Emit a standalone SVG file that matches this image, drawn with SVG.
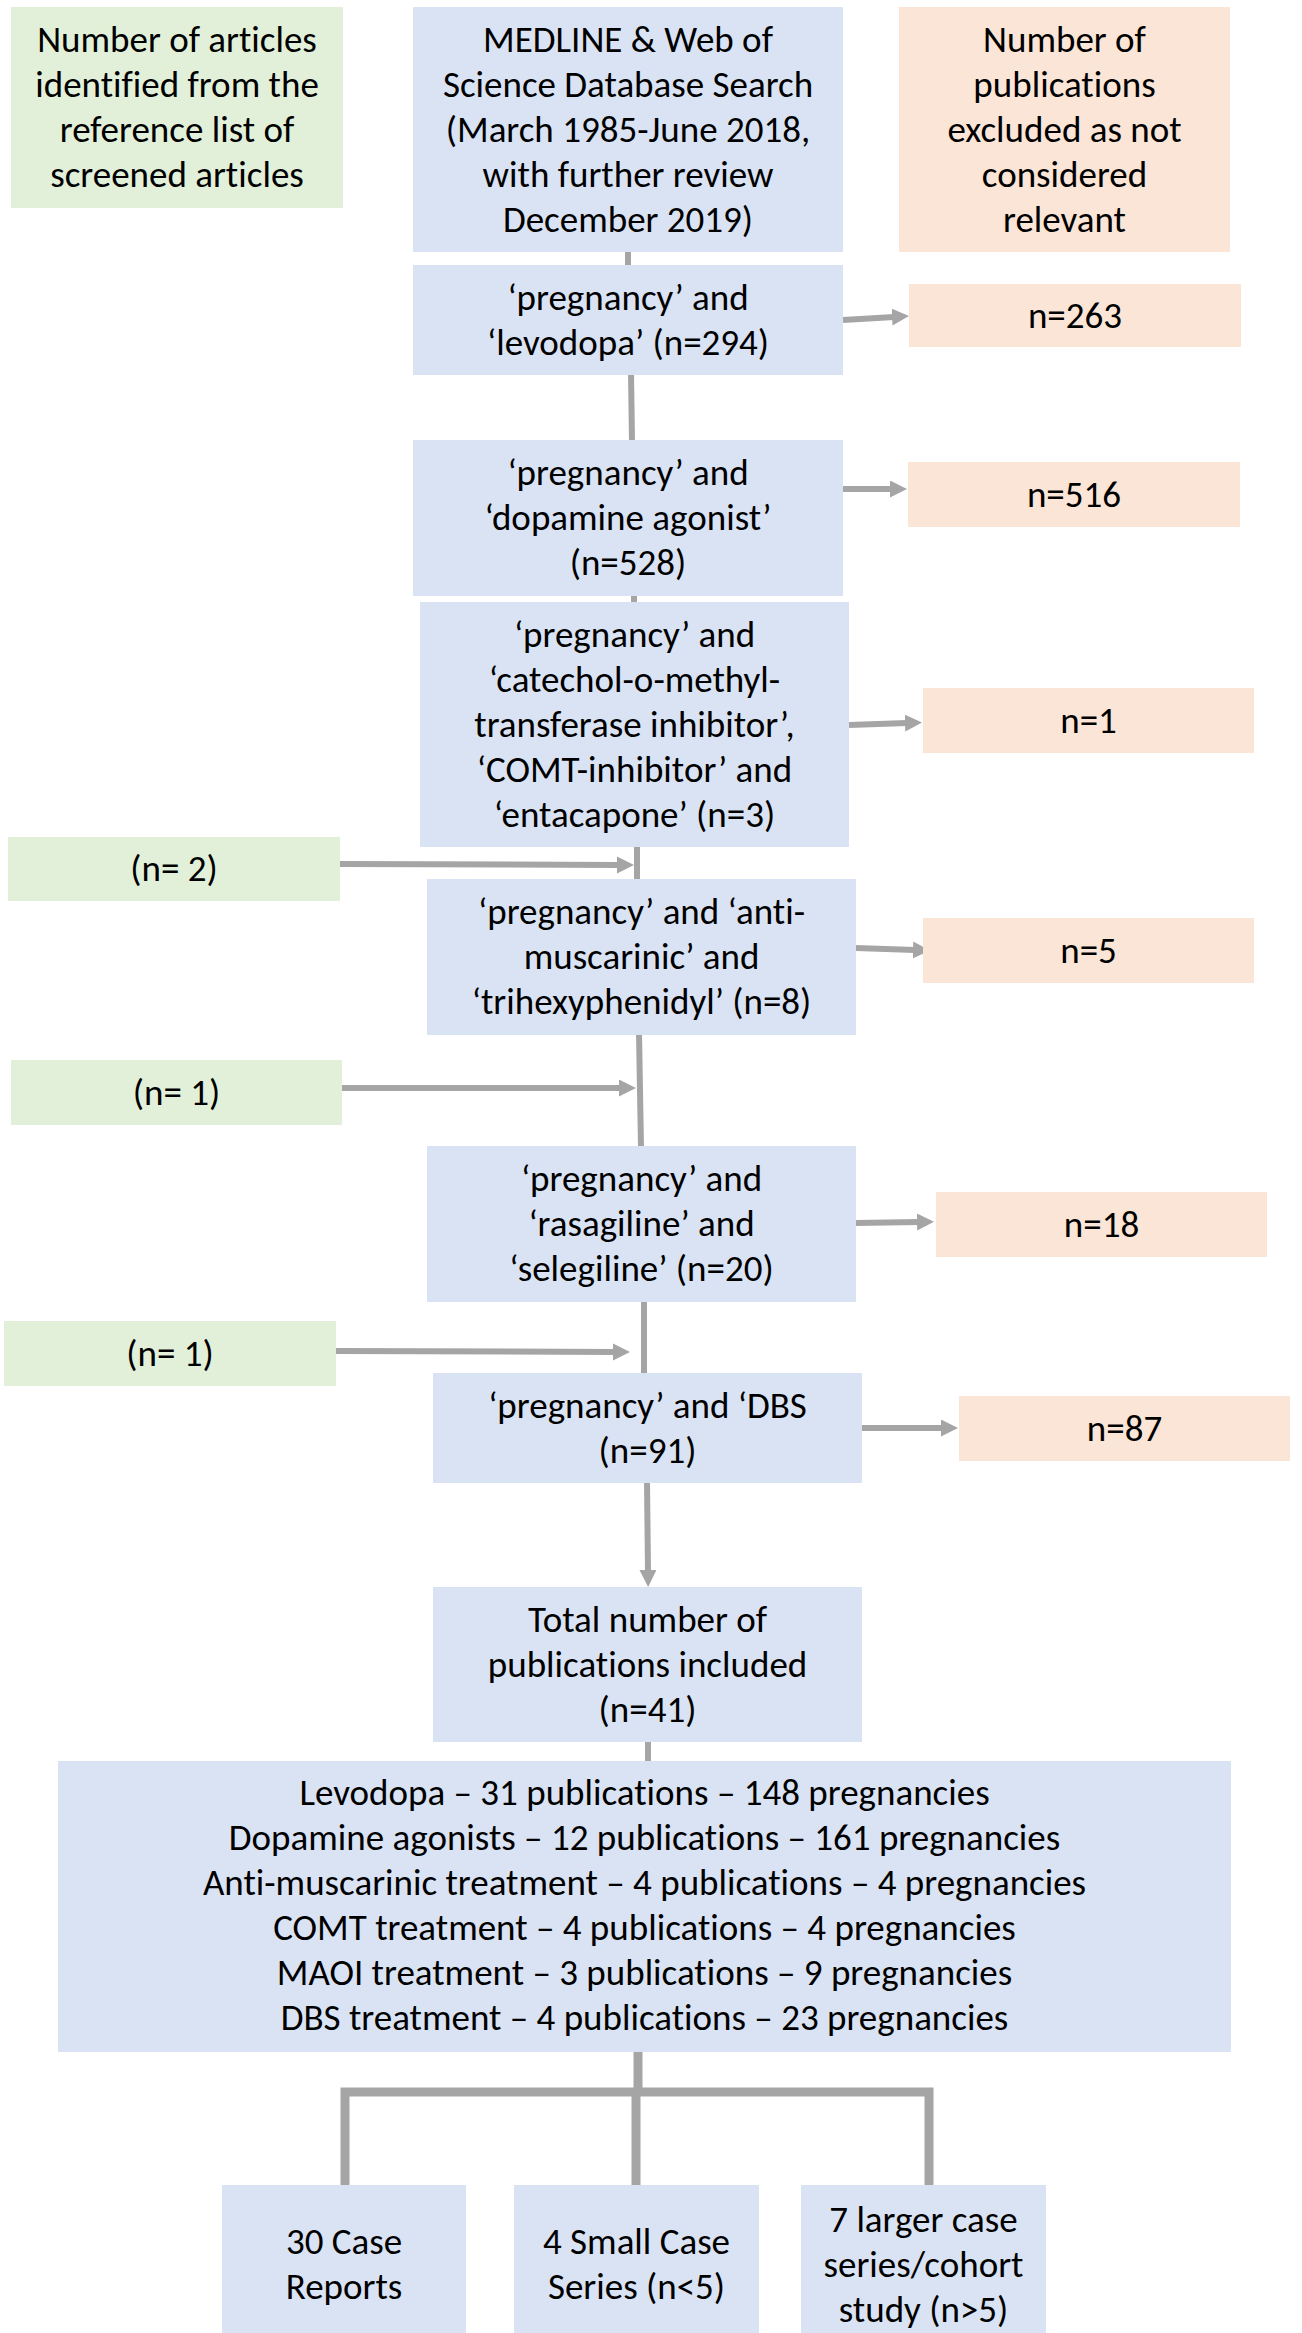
<svg xmlns="http://www.w3.org/2000/svg" width="1302" height="2333" viewBox="0 0 1302 2333">
<style>
text{font-family:Carlito,"Liberation Sans",sans-serif;font-size:37px;fill:#000;text-anchor:middle;font-variant-ligatures:none}
.b{fill:#DAE3F3}
.g{fill:#E2F0D9}
.o{fill:#FBE5D6}
.ln{stroke:#A5A5A5;stroke-width:6;fill:none}
.ar{stroke:#A5A5A5;stroke-width:6;fill:none;marker-end:url(#ah)}
.br{stroke:#A5A5A5;stroke-width:9;fill:none;stroke-linejoin:miter}
</style>
<defs>
<marker id="ah" markerUnits="userSpaceOnUse" markerWidth="18" markerHeight="18" refX="2" refY="8.5" orient="auto">
<path d="M0,0 L17,8.5 L0,17 z" fill="#A5A5A5"/>
</marker>
</defs>
<rect width="1302" height="2333" fill="#fff"/>
<g id="connectors">
<line class="ln" x1="628" y1="250" x2="628" y2="267"/>
<line class="ln" x1="631" y1="373" x2="632" y2="442"/>
<line class="ln" x1="634" y1="594" x2="634" y2="604"/>
<line class="ln" x1="637" y1="845" x2="637" y2="881"/>
<line class="ln" x1="639" y1="1033" x2="641" y2="1148"/>
<line class="ln" x1="644" y1="1300" x2="644" y2="1375"/>
<line class="ln" x1="648" y1="1740" x2="648" y2="1763"/>
<line class="ar" x1="843" y1="320" x2="894" y2="317"/>
<line class="ar" x1="843" y1="489" x2="892" y2="489"/>
<line class="ar" x1="849" y1="725" x2="907" y2="723"/>
<line class="ar" x1="856" y1="948" x2="915" y2="950"/>
<line class="ar" x1="856" y1="1223" x2="919" y2="1222"/>
<line class="ar" x1="862" y1="1428" x2="943" y2="1428"/>
<line class="ar" x1="340" y1="864" x2="619" y2="865"/>
<line class="ar" x1="342" y1="1088" x2="621" y2="1088"/>
<line class="ar" x1="336" y1="1351" x2="615" y2="1352"/>
<line class="ar" x1="647" y1="1481" x2="648" y2="1572"/>
<path class="br" d="M638,2050 V2092"/>
<path class="br" d="M345,2187 V2092 H929 V2187"/>
<path class="br" d="M636,2092 V2187"/>
</g>
<g id="n_refs">
<rect class="g" x="11" y="7" width="332" height="201"/>
<text x="177" y="52">Number of articles</text>
<text x="177" y="97">identified from the</text>
<text x="177" y="142">reference list of</text>
<text x="177" y="187">screened articles</text>
</g>
<g id="n_search">
<rect class="b" x="413" y="7" width="430" height="245"/>
<text x="628" y="52">MEDLINE &amp; Web of</text>
<text x="628" y="97">Science Database Search</text>
<text x="628" y="142">(March 1985-June 2018,</text>
<text x="628" y="187">with further review</text>
<text x="628" y="232">December 2019)</text>
</g>
<g id="n_excl">
<rect class="o" x="899" y="7" width="331" height="245"/>
<text x="1064.5" y="52">Number of</text>
<text x="1064.5" y="97">publications</text>
<text x="1064.5" y="142">excluded as not</text>
<text x="1064.5" y="187">considered</text>
<text x="1064.5" y="232">relevant</text>
</g>
<g id="n_levodopa">
<rect class="b" x="413" y="265" width="430" height="110"/>
<text x="628" y="310">‘pregnancy’ and</text>
<text x="628" y="355">‘levodopa’ (n=294)</text>
</g>
<g id="n_263">
<rect class="o" x="909" y="284" width="332" height="63"/>
<text x="1075" y="328">n=263</text>
</g>
<g id="n_dopamine">
<rect class="b" x="413" y="440" width="430" height="156"/>
<text x="628" y="485">‘pregnancy’ and</text>
<text x="628" y="530">‘dopamine agonist’</text>
<text x="628" y="575">(n=528)</text>
</g>
<g id="n_516">
<rect class="o" x="908" y="462" width="332" height="65"/>
<text x="1074" y="507">n=516</text>
</g>
<g id="n_comt">
<rect class="b" x="420" y="602" width="429" height="245"/>
<text x="634.5" y="647">‘pregnancy’ and</text>
<text x="634.5" y="692">‘catechol-o-methyl-</text>
<text x="634.5" y="737">transferase inhibitor’,</text>
<text x="634.5" y="782">‘COMT-inhibitor’ and</text>
<text x="634.5" y="827">‘entacapone’ (n=3)</text>
</g>
<g id="n_1a">
<rect class="o" x="923" y="688" width="331" height="65"/>
<text x="1088.5" y="733">n=1</text>
</g>
<g id="n_ref2">
<rect class="g" x="8" y="837" width="332" height="64"/>
<text x="174" y="881">(n= 2)</text>
</g>
<g id="n_anti">
<rect class="b" x="427" y="879" width="429" height="156"/>
<text x="641.5" y="924">‘pregnancy’ and ‘anti-</text>
<text x="641.5" y="969">muscarinic’ and</text>
<text x="641.5" y="1014">‘trihexyphenidyl’ (n=8)</text>
</g>
<g id="n_5">
<rect class="o" x="923" y="918" width="331" height="65"/>
<text x="1088.5" y="963">n=5</text>
</g>
<g id="n_ref1a">
<rect class="g" x="11" y="1060" width="331" height="65"/>
<text x="176.5" y="1105">(n= 1)</text>
</g>
<g id="n_rasagiline">
<rect class="b" x="427" y="1146" width="429" height="156"/>
<text x="641.5" y="1191">‘pregnancy’ and</text>
<text x="641.5" y="1236">‘rasagiline’ and</text>
<text x="641.5" y="1281">‘selegiline’ (n=20)</text>
</g>
<g id="n_18">
<rect class="o" x="936" y="1192" width="331" height="65"/>
<text x="1101.5" y="1237">n=18</text>
</g>
<g id="n_ref1b">
<rect class="g" x="4" y="1321" width="332" height="65"/>
<text x="170" y="1366">(n= 1)</text>
</g>
<g id="n_dbs">
<rect class="b" x="433" y="1373" width="429" height="110"/>
<text x="647.5" y="1418">‘pregnancy’ and ‘DBS</text>
<text x="647.5" y="1463">(n=91)</text>
</g>
<g id="n_87">
<rect class="o" x="959" y="1396" width="331" height="65"/>
<text x="1124.5" y="1441">n=87</text>
</g>
<g id="n_total">
<rect class="b" x="433" y="1587" width="429" height="155"/>
<text x="647.5" y="1632">Total number of</text>
<text x="647.5" y="1677">publications included</text>
<text x="647.5" y="1722">(n=41)</text>
</g>
<g id="n_summary">
<rect class="b" x="58" y="1761" width="1173" height="291"/>
<text x="644.5" y="1805">Levodopa – 31 publications – 148 pregnancies</text>
<text x="644.5" y="1850">Dopamine agonists – 12 publications – 161 pregnancies</text>
<text x="644.5" y="1895">Anti-muscarinic treatment – 4 publications – 4 pregnancies</text>
<text x="644.5" y="1940">COMT treatment – 4 publications – 4 pregnancies</text>
<text x="644.5" y="1985">MAOI treatment – 3 publications – 9 pregnancies</text>
<text x="644.5" y="2030">DBS treatment – 4 publications – 23 pregnancies</text>
</g>
<g id="n_case_reports">
<rect class="b" x="222" y="2185" width="244" height="160"/>
<text x="344" y="2254">30 Case</text>
<text x="344" y="2299">Reports</text>
</g>
<g id="n_small_series">
<rect class="b" x="514" y="2185" width="245" height="160"/>
<text x="636.5" y="2254">4 Small Case</text>
<text x="636.5" y="2299">Series (n&lt;5)</text>
</g>
<g id="n_large_series">
<rect class="b" x="801" y="2185" width="245" height="160"/>
<text x="923.5" y="2232">7 larger case</text>
<text x="923.5" y="2277">series/cohort</text>
<text x="923.5" y="2322">study (n&gt;5)</text>
</g>
</svg>
